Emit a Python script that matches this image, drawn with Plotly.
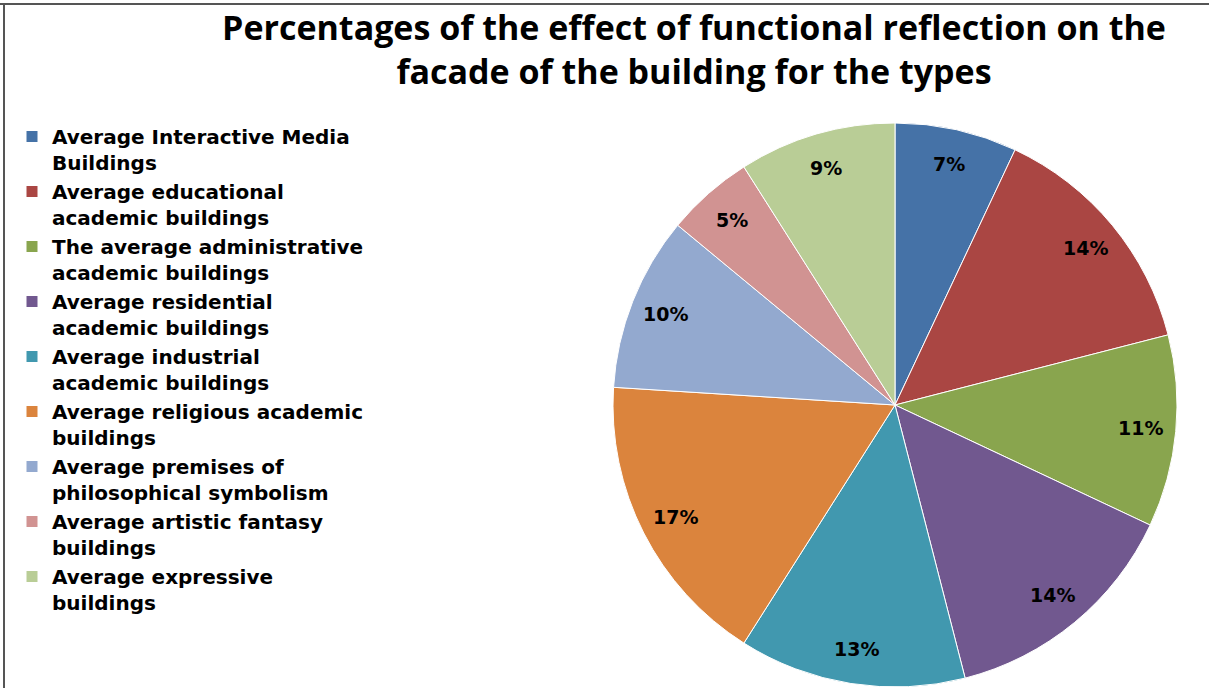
import math
import plotly.graph_objects as go

labels = [
    "Average Interactive Media<br>Buildings",
    "Average educational<br>academic buildings",
    "The average administrative<br>academic buildings",
    "Average residential<br>academic buildings",
    "Average industrial<br>academic buildings",
    "Average religious academic<br>buildings",
    "Average premises of<br>philosophical symbolism",
    "Average artistic fantasy<br>buildings",
    "Average expressive<br>buildings",
]
values = [7, 14, 11, 14, 13, 17, 10, 5, 9]
colors = ["#4572A7", "#AA4643", "#89A54E", "#71588F", "#4198AF",
          "#DB843D", "#93A9CF", "#D19392", "#B9CD96"]
title_text = ("Percentages of the effect of functional reflection on the<br>"
              "facade of the building for the types")

W, H = 1209, 688
cx, cy, r = 895, 405, 282
label_r = 0.875

fig = go.Figure(go.Pie(
    labels=labels,
    values=values,
    sort=False,
    direction="clockwise",
    rotation=0,
    marker=dict(colors=colors, line=dict(color="white", width=1)),
    textinfo="none",
    domain=dict(x=[(cx - r) / W, (cx + r) / W],
                y=[(H - cy - r) / H, (H - cy + r) / H]),
    hoverinfo="label+percent",
))

# percentage labels placed near the rim of each slice (derived from the values)
total = sum(values)
annotations = []
cum = 0
for v in values:
    mid = (cum + v / 2) / total * 2 * math.pi
    cum += v
    px = cx + label_r * r * math.sin(mid)
    py = cy - label_r * r * math.cos(mid)
    annotations.append(dict(
        x=px / W, y=1 - py / H, xref="paper", yref="paper",
        text=f"{round(v / total * 100)}%", showarrow=False,
        font=dict(family="DejaVu Sans", size=19, color="black", weight="bold"),
        xanchor="center", yanchor="middle",
    ))

fig.update_layout(
    width=W, height=H,
    margin=dict(l=0, r=0, t=0, b=0),
    paper_bgcolor="white",
    plot_bgcolor="white",
    title=dict(text=title_text, x=694 / W, xanchor="center",
               y=1 - 40 / H, yanchor="top",
               font=dict(family="Open Sans", size=34, color="black", weight="bold")),
    legend=dict(x=12 / W, xanchor="left", y=1 - 117 / H, yanchor="top",
                valign="top",
                font=dict(family="DejaVu Sans", size=20, color="black", weight="bold"),
                tracegroupgap=0, itemclick=False),
    showlegend=True,
    annotations=annotations,
    shapes=[
        dict(type="line", xref="paper", yref="paper", x0=0, x1=1,
             y0=1 - 4 / H, y1=1 - 4 / H, line=dict(color="#555555", width=2)),
        dict(type="line", xref="paper", yref="paper", x0=4 / W, x1=4 / W,
             y0=0, y1=1 - 4 / H, line=dict(color="#555555", width=2)),
    ],
)

fig.write_html("out.html")
